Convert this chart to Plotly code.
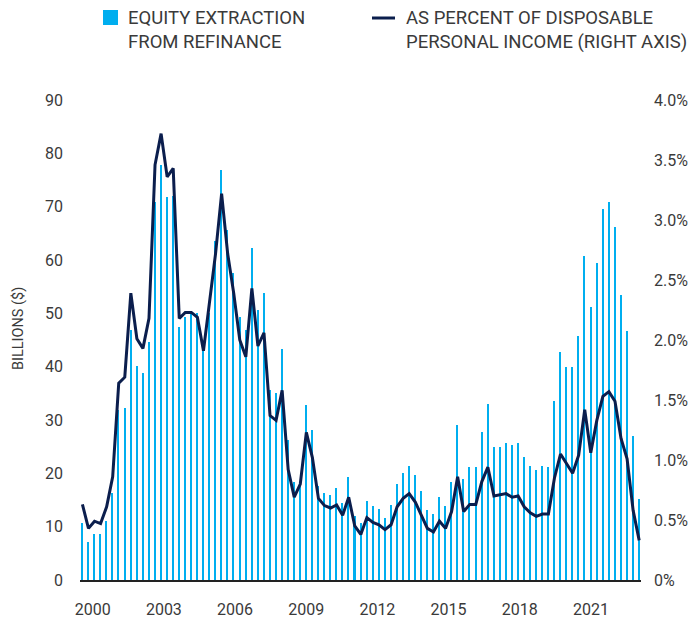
import plotly.graph_objects as go

# Quarterly data, 2000 Q1 .. 2023 Q1
quarters = [f"{y} Q{q}" for y in range(2000, 2024) for q in range(1, 5)][:93]

equity_extraction_bn = [
    10.6, 7.2, 8.6, 8.6, 11.1, 16.3, 31.9, 32.2, 46.9, 40.2,
    38.8, 44.7, 70.9, 77.8, 71.9, 72.0, 47.5, 49.3, 50.0, 50.0,
    43.0, 50.0, 63.6, 76.8, 65.6, 57.6, 49.4, 46.9, 62.2, 50.6,
    53.8, 35.7, 35.0, 43.3, 26.3, 18.3, 18.1, 32.9, 28.1, 17.6,
    16.3, 15.9, 17.3, 14.5, 19.4, 12.0, 10.6, 14.8, 13.8, 13.4,
    11.7, 14.1, 18.0, 20.0, 21.4, 19.7, 16.6, 13.1, 12.4, 15.5,
    13.8, 18.3, 29.1, 19.0, 21.1, 21.1, 27.7, 33.0, 24.9, 24.9,
    25.6, 25.3, 25.6, 23.1, 21.4, 20.6, 21.4, 21.1, 33.6, 42.7,
    39.9, 39.9, 45.8, 60.8, 51.1, 59.4, 69.5, 70.9, 66.1, 53.4,
    46.6, 27.0, 15.2,
]

pct_disposable_income = [
    0.63, 0.43, 0.49, 0.47, 0.61, 0.86, 1.64, 1.69, 2.39, 2.01,
    1.93, 2.18, 3.46, 3.72, 3.36, 3.43, 2.18, 2.23, 2.23, 2.19,
    1.91, 2.30, 2.72, 3.22, 2.72, 2.39, 2.00, 1.86, 2.43, 1.95,
    2.06, 1.37, 1.33, 1.58, 0.92, 0.69, 0.80, 1.23, 1.02, 0.68,
    0.62, 0.60, 0.625, 0.54, 0.69, 0.45, 0.38, 0.52, 0.48, 0.46,
    0.42, 0.46, 0.61, 0.68, 0.72, 0.65, 0.54, 0.43, 0.40, 0.49,
    0.43, 0.57, 0.86, 0.57, 0.63, 0.63, 0.82, 0.94, 0.70, 0.71,
    0.72, 0.69, 0.70, 0.61, 0.56, 0.53, 0.55, 0.55, 0.85, 1.05,
    0.97, 0.89, 1.04, 1.42, 1.06, 1.33, 1.53, 1.57, 1.49, 1.18,
    1.01, 0.58, 0.33,
]

year_labels = ["2000", "2003", "2006", "2009", "2012", "2015", "2018", "2021"]
left_ticks = [0, 10, 20, 30, 40, 50, 60, 70, 80, 90]
right_ticks = [0, 0.5, 1.0, 1.5, 2.0, 2.5, 3.0, 3.5, 4.0]
right_tick_text = ["0%", "0.5%", "1.0%", "1.5%", "2.0%", "2.5%", "3.0%", "3.5%", "4.0%"]
legend_bar_text = "EQUITY EXTRACTION<br>FROM REFINANCE"
legend_line_text = "AS PERCENT OF DISPOSABLE<br>PERSONAL INCOME (RIGHT AXIS)"

x_idx = list(range(len(quarters)))
year_tick_pos = [1.7 + 11.76 * j for j in range(len(year_labels))]

BLUE = "#00AEEF"
NAVY = "#0B1E4D"
TXT = "#3a3a3a"
FONT = "Roboto, 'Noto Sans', sans-serif"

# plot area in pixels (for placing the hand-drawn legend)
L, R, T, B = 80, 54, 100, 38
W, H = 695, 618
PW, PH = W - L - R, H - T - B


def px(xp):
    return (xp - L) / PW


def py(yp):
    return (H - B - yp) / PH


fig = go.Figure()
fig.add_trace(go.Bar(
    x=x_idx, y=equity_extraction_bn, customdata=quarters,
    name="EQUITY EXTRACTION FROM REFINANCE",
    marker=dict(color=BLUE, line=dict(width=0)),
    width=0.25,
    hovertemplate="%{customdata}: %{y}<extra></extra>",
))
fig.add_trace(go.Scatter(
    x=x_idx, y=pct_disposable_income, customdata=quarters,
    name="AS PERCENT OF DISPOSABLE PERSONAL INCOME (RIGHT AXIS)",
    mode="lines", line=dict(color=NAVY, width=3),
    yaxis="y2",
    hovertemplate="%{customdata}: %{y}%<extra></extra>",
))

fig.update_layout(
    width=W, height=H,
    margin=dict(l=L, r=R, t=T, b=B, autoexpand=False),
    paper_bgcolor="white", plot_bgcolor="white",
    font=dict(family=FONT, size=16, color=TXT),
    showlegend=False,
    bargap=0,
    xaxis=dict(
        range=[-0.4, 92.3],
        tickvals=year_tick_pos, ticktext=year_labels,
        showgrid=False, zeroline=False,
        showline=True, linecolor="#222222", linewidth=1.5,
        ticks="", ticklabelstandoff=14,
        tickfont=dict(family=FONT, size=16, color=TXT),
    ),
    yaxis=dict(
        range=[0, 90], tickvals=left_ticks,
        showgrid=False, zeroline=False, showline=False,
        ticks="", ticklabelstandoff=16,
        tickfont=dict(family=FONT, size=16, color=TXT),
    ),
    yaxis2=dict(
        range=[0, 4], tickvals=right_ticks, ticktext=right_tick_text,
        overlaying="y", side="right",
        showgrid=False, zeroline=False, showline=False,
        ticks="", ticklabelstandoff=12,
        tickfont=dict(family=FONT, size=16, color=TXT),
    ),
    annotations=[
        dict(
            text="BILLIONS ($)", xref="paper", yref="paper",
            x=px(18), y=py(329),
            xanchor="center", yanchor="middle", textangle=-90,
            showarrow=False, font=dict(family=FONT, size=14.5, color=TXT),
        ),
        dict(
            text=legend_bar_text, xref="paper", yref="paper",
            x=px(126), y=py(30), xanchor="left", yanchor="middle",
            align="left", showarrow=False,
            font=dict(family=FONT, size=18.5, color=TXT),
        ),
        dict(
            text=legend_line_text, xref="paper", yref="paper",
            x=px(404), y=py(30), xanchor="left", yanchor="middle",
            align="left", showarrow=False,
            font=dict(family=FONT, size=18.5, color=TXT),
        ),
    ],
    shapes=[
        dict(type="rect", xref="paper", yref="paper",
             x0=px(103), x1=px(118), y0=py(25), y1=py(10),
             fillcolor=BLUE, line=dict(width=0)),
        dict(type="line", xref="paper", yref="paper",
             x0=px(372), x1=px(395), y0=py(18), y1=py(18),
             line=dict(color=NAVY, width=3)),
    ],
)

fig.write_html(
    "out.html",
    config={"displayModeBar": False},
    post_script="document.body.style.margin='0';document.body.style.overflow='hidden';",
)
